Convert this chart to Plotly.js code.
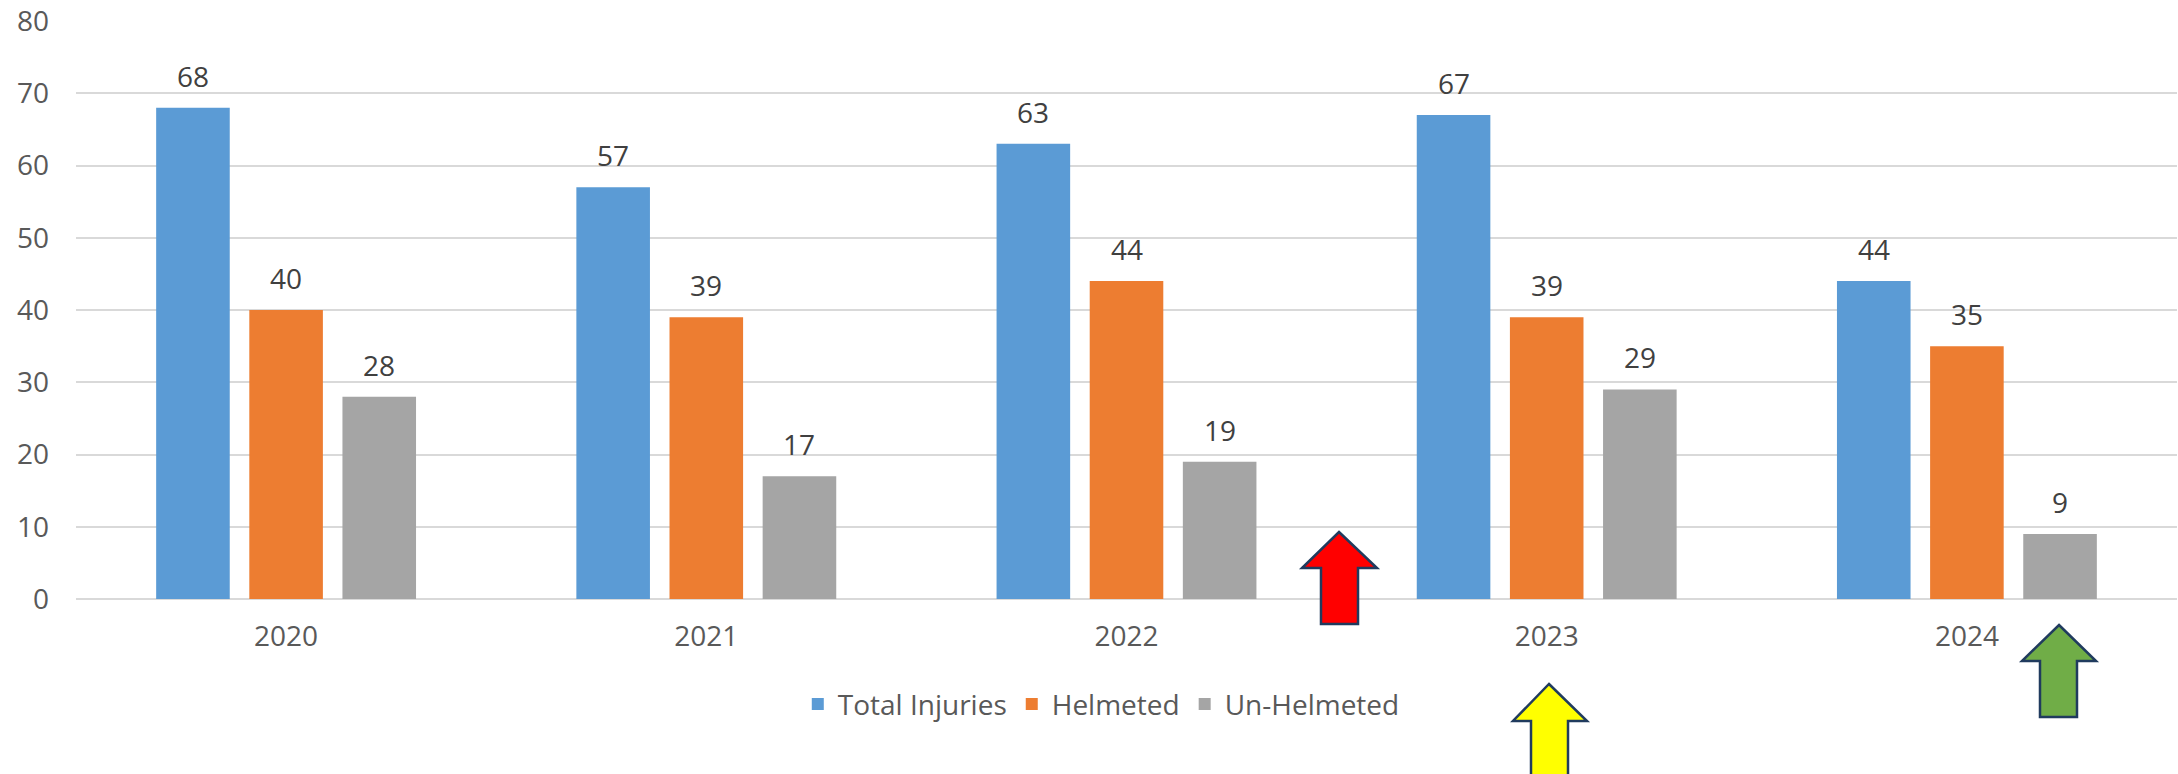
<!DOCTYPE html>
<html>
<head>
<meta charset="utf-8">
<script src="https://cdn.plot.ly/plotly-3.0.1.min.js"></script>
<style>html,body{margin:0;padding:0;background:#fff;}#chart{width:2178px;height:774px;}</style>
</head>
<body>
<div id="chart"></div>
<script>
const years = ['2020', '2021', '2022', '2023', '2024'];
const totalInjuries = [68, 57, 63, 67, 44];
const helmeted = [40, 39, 44, 39, 35];
const unHelmeted = [28, 17, 19, 29, 9];
const seriesNames = ['Total Injuries', 'Helmeted', 'Un-Helmeted'];
const seriesColors = ['#5B9BD5', '#ED7D31', '#A5A5A5'];
const seriesValues = [totalInjuries, helmeted, unHelmeted];

const W = 2178, H = 774;
const M = {l: 76, r: 1, t: 21, b: 175};
const PW = W - M.l - M.r, PH = H - M.t - M.b;
const FONT = '"Open Sans", "Noto Sans", sans-serif';

const traces = seriesValues.map((vals, i) => ({
  type: 'bar',
  name: seriesNames[i],
  x: years,
  y: vals,
  marker: {color: seriesColors[i], line: {width: 0}},
  hoverinfo: 'none'
}));

// data labels above bars (x given as category index)
const annotations = [];
const slot = PW / years.length * (1 - 0.335) / 3;
seriesValues.forEach((vals, i) => {
  vals.forEach((v, j) => {
    annotations.push({
      x: j, y: v, xref: 'x', yref: 'y',
      text: String(v), showarrow: false,
      xanchor: 'center', yanchor: 'bottom',
      xshift: (i - 1) * slot, yshift: 11,
      font: {family: FONT, size: 28, color: '#404040'}
    });
  });
});

// decorative block arrows (pixel coords -> paper)
function px(X) { return (X - M.l) / PW; }
function py(Y) { return (H - M.b - Y) / PH; }
function arrow(tipX, tipY, headY, headL, headR, shaftL, shaftR, bottom, color) {
  const pts = [[tipX, tipY], [headR, headY], [shaftR, headY], [shaftR, bottom],
               [shaftL, bottom], [shaftL, headY], [headL, headY]];
  const d = 'M' + pts.map(p => px(p[0]).toFixed(5) + ',' + py(p[1]).toFixed(5)).join(' L') + ' Z';
  return {type: 'path', xref: 'paper', yref: 'paper', path: d, fillcolor: color,
          line: {color: '#203B5E', width: 2.5}, layer: 'above'};
}
const shapes = [
  arrow(1339, 532, 568, 1302, 1377, 1321, 1358, 624, '#FF0000'),
  arrow(1549, 684, 721, 1513, 1587, 1531, 1568, 790, '#FFFF00'),
  arrow(2059, 625, 661, 2022, 2096, 2040, 2077, 717, '#70AD47')
];

const layout = {
  width: W, height: H,
  margin: M,
  paper_bgcolor: '#FFFFFF', plot_bgcolor: '#FFFFFF',
  font: {family: FONT, size: 28, color: '#595959'},
  barmode: 'group', bargap: 0.335, bargroupgap: 0.21,
  showlegend: true,
  legend: {orientation: 'h', x: 0.488, xanchor: 'center', y: -0.182, yanchor: 'middle',
           font: {family: FONT, size: 28, color: '#595959'}, bgcolor: 'rgba(0,0,0,0)'},
  xaxis: {type: 'category', range: [-0.5, years.length - 0.5], autorange: false,
          showgrid: false, showline: false, zeroline: false,
          ticks: '', ticklabelstandoff: 18, tickfont: {family: FONT, size: 28, color: '#595959'},
          fixedrange: true},
  yaxis: {range: [0, 80], autorange: false, dtick: 10, tick0: 0, showgrid: true, gridcolor: '#D9D9D9', gridwidth: 2,
          zeroline: true, zerolinecolor: '#D9D9D9', zerolinewidth: 2, showline: false, ticks: '',
          ticklabelstandoff: 26, tickfont: {family: FONT, size: 28, color: '#595959'},
          fixedrange: true},
  annotations: annotations,
  shapes: shapes
};

Plotly.newPlot('chart', traces, layout, {displayModeBar: false, staticPlot: true});
</script>
</body>
</html>
